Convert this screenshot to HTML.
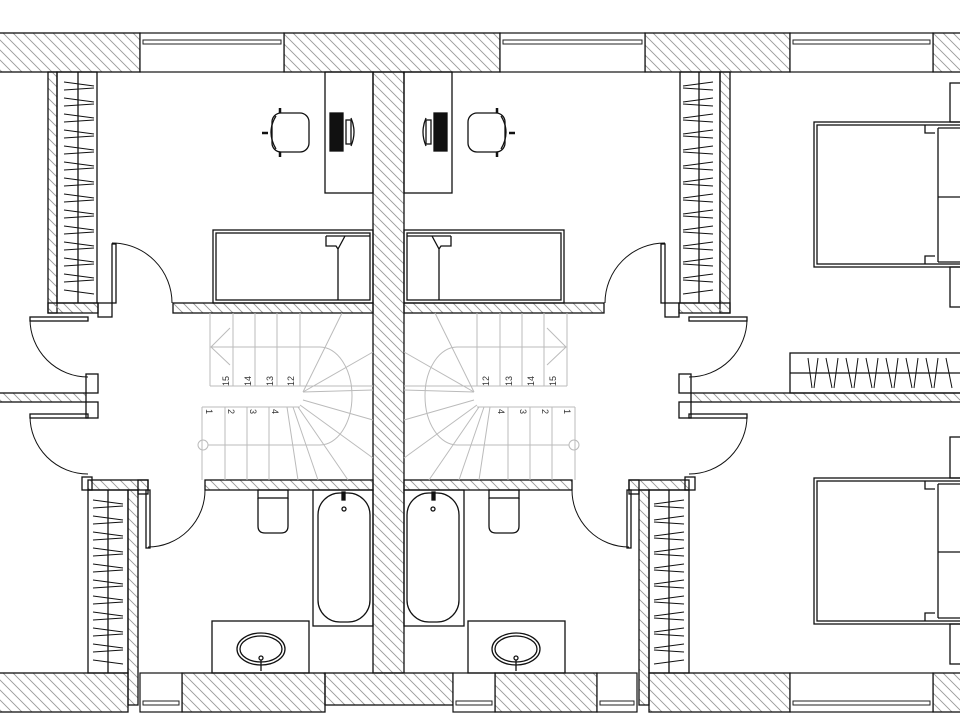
<!DOCTYPE html>
<html><head><meta charset="utf-8"><style>
html,body{margin:0;padding:0;background:#fff;width:960px;height:720px;overflow:hidden}
svg{display:block}
text{font-family:"Liberation Sans",sans-serif;font-size:9px;fill:#333}
</style></head><body>
<svg width="960" height="720" viewBox="0 0 960 720" xmlns="http://www.w3.org/2000/svg">
<defs>
<pattern id="h" patternUnits="userSpaceOnUse" width="10" height="10">
<path d="M-2,-2 L12,12 M-7,3 L7,17 M3,-7 L17,7" stroke="#999" stroke-width="0.9"/>
</pattern>
<g id="half" fill="none" stroke="#111" stroke-width="1.3">
  <rect x="57" y="72" width="40" height="231"/>
  <line x1="78" y1="72" x2="78" y2="303"/>
  <path d="M64,82 L94,86 M64,90 L94,88 M64,98 L94,102 M64,106 L94,104 M64,114 L94,118 M64,122 L94,120 M64,130 L94,134 M64,138 L94,136 M64,146 L94,150 M64,154 L94,152 M64,162 L94,166 M64,170 L94,168 M64,178 L94,182 M64,186 L94,184 M64,194 L94,198 M64,202 L94,200 M64,210 L94,214 M64,218 L94,216 M64,226 L94,230 M64,234 L94,232 M64,242 L94,246 M64,250 L94,248 M64,258 L94,262 M64,266 L94,264 M64,274 L94,278 M64,282 L94,280 M64,290 L94,294" stroke-width="1"/>
  <rect x="88" y="490" width="40" height="183"/>
  <line x1="108" y1="490" x2="108" y2="673"/>
  <path d="M93,500 L123,504 M93,508 L123,506 M93,516 L123,520 M93,524 L123,522 M93,532 L123,536 M93,540 L123,538 M93,548 L123,552 M93,556 L123,554 M93,564 L123,568 M93,572 L123,570 M93,580 L123,584 M93,588 L123,586 M93,596 L123,600 M93,604 L123,602 M93,612 L123,616 M93,620 L123,618 M93,628 L123,632 M93,636 L123,634 M93,644 L123,648 M93,652 L123,650 M93,660 L123,664" stroke-width="1"/>
  <rect x="325" y="72" width="48" height="121"/>
  <rect x="330" y="113" width="13" height="38" fill="#111"/>
  <rect x="346" y="120" width="5" height="24"/>
  <path d="M351,118 Q357,132 351,146" />
  <rect x="272" y="113" width="37" height="39" rx="9"/>
  <path d="M276,116 Q266,132 276,149"/>
  <line x1="262" y1="133" x2="268" y2="133" stroke-width="2.5"/>
  <line x1="280" y1="108" x2="280" y2="113" stroke-width="2.5"/>
  <line x1="280" y1="152" x2="280" y2="157" stroke-width="2.5"/>
  <rect x="213" y="230" width="160" height="73"/>
  <rect x="216" y="233" width="154" height="67"/>
  <path d="M338,249 L338,300 M326,236 L370,236 M326,236 L326,246 L336,246 L338,249 L345,236"/>
  <rect x="112" y="244" width="4" height="59" fill="#fff"/>
  <path d="M112,243 A60,60 0 0 1 172,303" stroke-width="1"/>
  <rect x="30" y="317" width="58" height="4" fill="#fff"/>
  <path d="M30,319 A58,58 0 0 0 88,377" stroke-width="1"/>
  <rect x="30" y="414" width="58" height="4" fill="#fff"/>
  <path d="M30,416 A58,58 0 0 0 88,474" stroke-width="1"/>
  <rect x="146" y="490" width="4" height="58" fill="#fff"/>
  <path d="M148,547 A57,57 0 0 0 205,490" stroke-width="1"/>
  <rect x="86" y="374" width="12" height="19"/>
  <rect x="86" y="402" width="12" height="16"/>
  <rect x="98" y="303" width="14" height="14"/>
  <rect x="138" y="480" width="10" height="14"/>
  <rect x="82" y="477" width="10" height="13"/>
  <g stroke="#bbb" stroke-width="1">
    <path d="M210,313 V386 M233,313 V386 M255,313 V386 M277,313 V386 M300,313 V386 M210,386 H373"/>
    <path d="M202,407 H300 M202,407 V480 M225,407 V480 M247,407 V480 M269,407 V480"/>
    <path d="M210,347 H320 A32,49 0 0 1 320,445 H208"/>
    <circle cx="203" cy="445" r="5"/>
    <path d="M230,328 L211,347 L230,365"/>
    <path d="M303,392 L342,313 M303,392 L373,352 M303,392 L373,390 M303,400 L373,420 M300,405 L373,458 M298,407 L348,480 M293,407 L318,480 M287,407 L298,480"/>
  </g>
  <rect x="258" y="490" width="30" height="8"/>
  <path d="M258,498 V526 Q258,533 265,533 H281 Q288,533 288,526 V498"/>
  <rect x="313" y="490" width="60" height="136"/>
  <rect x="318" y="493" width="52" height="129" rx="22"/>
  <circle cx="344" cy="509" r="2"/>
  <rect x="342" y="492" width="3" height="8" fill="#111"/>
  <rect x="212" y="621" width="97" height="52"/>
  <ellipse cx="261" cy="649" rx="24" ry="16"/>
  <ellipse cx="261" cy="649" rx="21" ry="13"/>
  <circle cx="261" cy="658" r="2"/>
  <line x1="261" y1="660" x2="261" y2="671"/>
</g>
</defs>

<g fill="url(#h)" stroke="#111" stroke-width="1.3">
  <rect x="-2" y="33" width="142" height="39"/>
  <rect x="284" y="33" width="216" height="39"/>
  <rect x="645" y="33" width="145" height="39"/>
  <rect x="933" y="33" width="30" height="39"/>
  <rect x="373" y="72" width="31" height="601"/>
  <rect x="48" y="72" width="9" height="241"/>
  <rect x="720" y="72" width="10" height="241"/>
  <rect x="48" y="303" width="50" height="10"/>
  <rect x="173" y="303" width="200" height="10"/>
  <rect x="404" y="303" width="200" height="10"/>
  <rect x="679" y="303" width="51" height="10"/>
  <rect x="-2" y="393" width="88" height="9"/>
  <rect x="691" y="393" width="272" height="9"/>
  <rect x="88" y="480" width="60" height="10"/>
  <rect x="205" y="480" width="168" height="10"/>
  <rect x="404" y="480" width="168" height="10"/>
  <rect x="629" y="480" width="60" height="10"/>
  <rect x="128" y="490" width="10" height="215"/>
  <rect x="639" y="490" width="10" height="215"/>
  <rect x="-2" y="673" width="130" height="39"/>
  <rect x="182" y="673" width="143" height="39"/>
  <rect x="325" y="673" width="128" height="32"/>
  <rect x="495" y="673" width="102" height="39"/>
  <rect x="649" y="673" width="141" height="39"/>
  <rect x="933" y="673" width="30" height="39"/>
</g>

<g fill="#fff" stroke="#111" stroke-width="1.2">
  <rect x="140" y="33" width="144" height="39"/>
  <rect x="500" y="33" width="145" height="39"/>
  <rect x="790" y="33" width="143" height="39"/>
  <rect x="140" y="673" width="42" height="39"/>
  <rect x="453" y="673" width="42" height="39"/>
  <rect x="597" y="673" width="40" height="39"/>
  <rect x="790" y="673" width="143" height="39"/>
</g>
<g stroke="#222" stroke-width="1" fill="none">
  <rect x="143" y="40" width="138" height="4"/>
  <rect x="503" y="40" width="139" height="4"/>
  <rect x="793" y="40" width="137" height="4"/>
  <rect x="143" y="701" width="36" height="4"/>
  <rect x="456" y="701" width="36" height="4"/>
  <rect x="600" y="701" width="34" height="4"/>
  <rect x="793" y="701" width="137" height="4"/>
</g>

<use href="#half"/>
<use href="#half" transform="translate(777,0) scale(-1,1)"/>

<g fill="none" stroke="#111" stroke-width="1.3">
  <rect x="790" y="353" width="175" height="40"/>
  <line x1="790" y1="373" x2="960" y2="373"/>
  <path d="M808,358 L812,388 M818,358 L814,388 M826,358 L832,388 M838,358 L834,388 M846,358 L852,388 M858,358 L854,388 M866,358 L872,388 M878,358 L874,388 M886,358 L892,388 M898,358 L894,388 M906,358 L912,388 M918,358 L914,388 M926,358 L932,388 M938,358 L934,388 M946,358 L952,388" stroke-width="1"/>
  <rect x="814" y="122" width="150" height="145"/>
  <rect x="817" y="125" width="150" height="139"/>
  <path d="M938,128 V262 M938,197 H963 M938,128 H963 M938,262 H963 M925,125 L925,133 L935,133 M925,264 L925,256 L935,256"/>
  <rect x="950" y="83" width="14" height="39"/>
  <rect x="950" y="267" width="14" height="40"/>
  <rect x="814" y="478" width="150" height="146"/>
  <rect x="817" y="481" width="150" height="140"/>
  <path d="M938,484 V618 M938,552 H963 M938,484 H963 M938,618 H963 M925,481 L925,489 L935,489 M925,621 L925,613 L935,613"/>
  <rect x="950" y="437" width="14" height="41"/>
  <rect x="950" y="624" width="14" height="40"/>
</g>

<g>
  <text transform="translate(229,386) rotate(-90)">15</text>
  <text transform="translate(251,386) rotate(-90)">14</text>
  <text transform="translate(273,386) rotate(-90)">13</text>
  <text transform="translate(294,386) rotate(-90)">12</text>
  <text transform="translate(206,409) rotate(90)">1</text>
  <text transform="translate(228,409) rotate(90)">2</text>
  <text transform="translate(250,409) rotate(90)">3</text>
  <text transform="translate(272,409) rotate(90)">4</text>
  <text transform="translate(556,386) rotate(-90)">15</text>
  <text transform="translate(534,386) rotate(-90)">14</text>
  <text transform="translate(512,386) rotate(-90)">13</text>
  <text transform="translate(489,386) rotate(-90)">12</text>
  <text transform="translate(564,409) rotate(90)">1</text>
  <text transform="translate(542,409) rotate(90)">2</text>
  <text transform="translate(520,409) rotate(90)">3</text>
  <text transform="translate(498,409) rotate(90)">4</text>
</g>
</svg>
</body></html>
